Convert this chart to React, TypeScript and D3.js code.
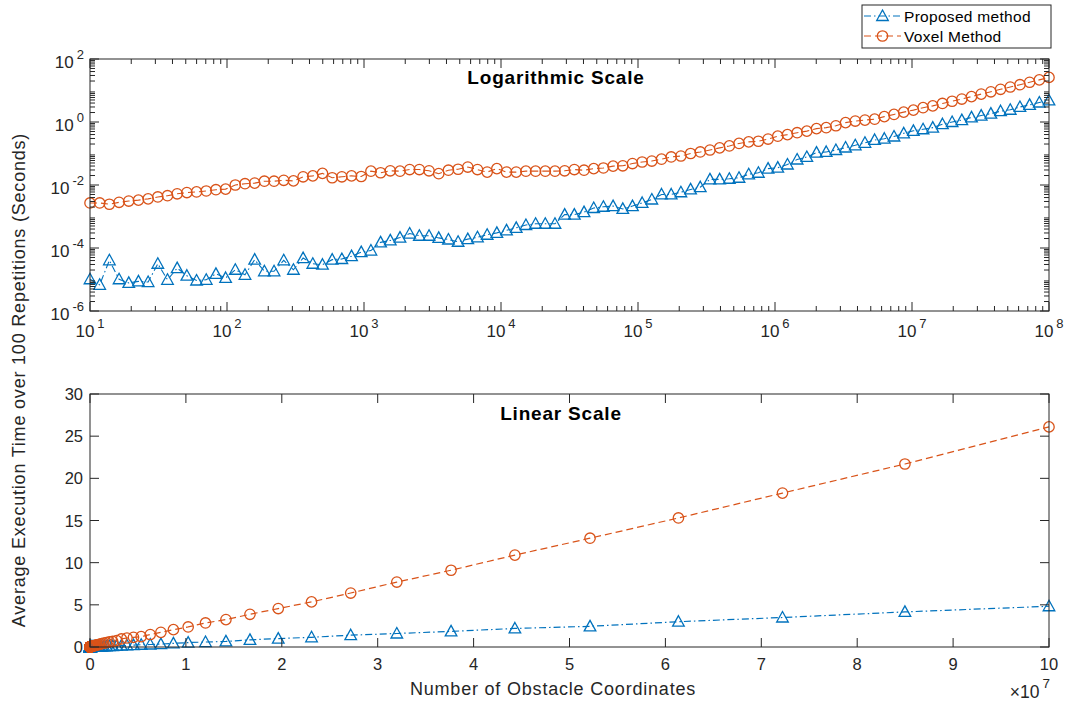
import React from 'react';
import * as d3 from 'd3';

// 100 log-spaced sample sizes (MATLAB logspace(1, 8, 100))
const sampleCount = 100;
const obstacleCounts: number[] = d3.range(sampleCount).map((i) => Math.pow(10, 1 + (7 * i) / (sampleCount - 1)));

const proposedTimes: number[] = [
  1.02e-5, 6.8e-6, 4.07e-5, 1.02e-5, 7.8e-6, 8.7e-6, 8.3e-6, 3.16e-5, 9.8e-6, 2.29e-5,
  1.32e-5, 9.3e-6, 9.8e-6, 1.51e-5, 1.12e-5, 2.04e-5, 1.41e-5, 4.27e-5, 1.82e-5, 1.82e-5,
  4.07e-5, 2.04e-5, 4.79e-5, 3.16e-5, 2.95e-5, 4.27e-5, 4.47e-5, 5.5e-5, 7.4e-5, 8.3e-5,
  1.51e-4, 1.74e-4, 2.14e-4, 2.88e-4, 2.45e-4, 2.45e-4, 2.09e-4, 1.86e-4, 1.58e-4, 1.91e-4,
  2.19e-4, 2.63e-4, 3.02e-4, 3.63e-4, 4.37e-4, 5.37e-4, 5.89e-4, 5.89e-4, 5.89e-4, 1.15e-3,
  1.15e-3, 1.38e-3, 1.86e-3, 2.04e-3, 2.14e-3, 1.74e-3, 2.14e-3, 2.69e-3, 3.47e-3, 5.01e-3,
  5.01e-3, 5.89e-3, 7.24e-3, 8.51e-3, 0.0151, 0.0151, 0.0158, 0.017, 0.0219, 0.0245,
  0.0331, 0.0355, 0.0447, 0.0646, 0.0776, 0.107, 0.112, 0.129, 0.155, 0.182,
  0.219, 0.269, 0.295, 0.347, 0.437, 0.525, 0.589, 0.661, 0.851, 1.0,
  1.15, 1.4, 1.6, 1.85, 2.2, 2.45, 3.0, 3.5, 4.16, 4.83,
];

const voxelTimes: number[] = [
  0.00269, 0.00269, 0.00245, 0.00282, 0.00309, 0.00331, 0.00363, 0.00417, 0.00457, 0.00525,
  0.00575, 0.00603, 0.00646, 0.00708, 0.00741, 0.01, 0.011, 0.0115, 0.0132, 0.0132,
  0.0141, 0.0135, 0.0182, 0.0195, 0.0234, 0.017, 0.0182, 0.0195, 0.0186, 0.0275,
  0.0245, 0.0282, 0.0275, 0.0309, 0.0309, 0.0282, 0.0229, 0.0295, 0.0316, 0.0372,
  0.0309, 0.0257, 0.0331, 0.0257, 0.0257, 0.0275, 0.0275, 0.0275, 0.0275, 0.0282,
  0.0309, 0.0295, 0.0331, 0.0347, 0.0398, 0.0407, 0.0479, 0.0537, 0.0575, 0.0661,
  0.0776, 0.0832, 0.1, 0.112, 0.129, 0.151, 0.174, 0.209, 0.234, 0.245,
  0.288, 0.355, 0.398, 0.457, 0.513, 0.617, 0.661, 0.759, 0.955, 1.07,
  1.15, 1.23, 1.48, 1.74, 2.06, 2.38, 2.85, 3.25, 3.88, 4.56,
  5.35, 6.4, 7.7, 9.1, 10.9, 12.9, 15.3, 18.25, 21.7, 26.1,
];

const logXExponents = [1, 2, 3, 4, 5, 6, 7, 8];
const logYExponents = [-6, -4, -2, 0, 2];
const linXTickLabels = [0, 1, 2, 3, 4, 5, 6, 7, 8, 9, 10];
const linYTicks = [0, 5, 10, 15, 20, 25, 30];

const seriesNames = ['Proposed method', 'Voxel Method'];
const BLUE = '#0072BD';
const ORANGE = '#D95319';
const AX = '#262626';
const FONT = 'Liberation Sans, Arial, Helvetica, sans-serif';

const L = 90;
const R = 1049;
const T1 = 59;
const B1 = 311;
const T2 = 394;
const B2 = 647;

const MAJ = 9;
const MIN = 5;

const DASH = '7,4';
const DASHDOT = '7,3,1.5,3';

function triPath(x: number, y: number) {
  const w = 5.8;
  return `M${x},${y - 6}L${x + w},${y + 4.5}L${x - w},${y + 4.5}Z`;
}

function Pow10({ x, y, exp, anchor }: { x: number; y: number; exp: number; anchor: string }) {
  return (
    <text x={x} y={y} textAnchor={anchor} fontSize={17} fill={AX} fontFamily={FONT}>
      <tspan>10</tspan>
      <tspan dx={3} dy={-9} fontSize={13}>
        {exp < 0 ? '-' + Math.abs(exp) : String(exp)}
      </tspan>
    </text>
  );
}

export default function App() {
  const xLog = d3.scaleLog().domain([10, 1e8]).range([L, R]);
  const yLog = d3.scaleLog().domain([1e-6, 1e2]).range([B1, T1]);
  const xLin = d3.scaleLinear().domain([0, 1e8]).range([L, R]);
  const yLin = d3.scaleLinear().domain([0, 30]).range([B2, T2]);

  const pts = (ys: number[]) => obstacleCounts.map((x, i) => [x, ys[i]] as [number, number]);

  const logLine = d3
    .line<[number, number]>()
    .x((d) => xLog(d[0]))
    .y((d) => yLog(d[1]));
  const linLine = d3
    .line<[number, number]>()
    .x((d) => xLin(d[0]))
    .y((d) => yLin(d[1]));

  // log minor ticks
  const xMinor: number[] = [];
  for (let k = 1; k < 8; k++) for (let m = 2; m <= 9; m++) xMinor.push(m * Math.pow(10, k));
  const yMinor: number[] = [];
  for (let k = -6; k < 2; k++) for (let m = 2; m <= 9; m++) yMinor.push(m * Math.pow(10, k));

  const ticks: JSX.Element[] = [];
  logXExponents.forEach((e) => {
    const x = xLog(Math.pow(10, e));
    ticks.push(<line key={'tx' + e} x1={x} x2={x} y1={B1} y2={B1 - MAJ} />);
    ticks.push(<line key={'ttx' + e} x1={x} x2={x} y1={T1} y2={T1 + MAJ} />);
  });
  xMinor.forEach((v, i) => {
    const x = xLog(v);
    ticks.push(<line key={'mx' + i} x1={x} x2={x} y1={B1} y2={B1 - MIN} />);
    ticks.push(<line key={'mtx' + i} x1={x} x2={x} y1={T1} y2={T1 + MIN} />);
  });
  logYExponents.forEach((e) => {
    const y = yLog(Math.pow(10, e));
    ticks.push(<line key={'ty' + e} x1={L} x2={L + MAJ} y1={y} y2={y} />);
    ticks.push(<line key={'try' + e} x1={R} x2={R - MAJ} y1={y} y2={y} />);
  });
  yMinor.forEach((v, i) => {
    const y = yLog(v);
    ticks.push(<line key={'my' + i} x1={L} x2={L + MIN} y1={y} y2={y} />);
    ticks.push(<line key={'mry' + i} x1={R} x2={R - MIN} y1={y} y2={y} />);
  });
  linXTickLabels.forEach((v) => {
    const x = xLin(v * 1e7);
    ticks.push(<line key={'lx' + v} x1={x} x2={x} y1={B2} y2={B2 - MAJ} />);
    ticks.push(<line key={'ltx' + v} x1={x} x2={x} y1={T2} y2={T2 + MAJ} />);
  });
  linYTicks.forEach((v) => {
    const y = yLin(v);
    ticks.push(<line key={'ly' + v} x1={L} x2={L + MAJ} y1={y} y2={y} />);
    ticks.push(<line key={'lry' + v} x1={R} x2={R - MAJ} y1={y} y2={y} />);
  });

  const propPts = pts(proposedTimes);
  const voxPts = pts(voxelTimes);

  return (
    <svg
      width={1075}
      height={704}
      style={{ position: 'absolute', left: 0, top: 0, background: '#fff' }}
      fontFamily={FONT}
    >
      <rect width={1075} height={704} fill="#fff" />

      {/* ---- top: log scale ---- */}
      <path d={logLine(propPts) || ''} fill="none" stroke={BLUE} strokeWidth={1.1} strokeDasharray={DASHDOT} />
      <path d={logLine(voxPts) || ''} fill="none" stroke={ORANGE} strokeWidth={1.1} strokeDasharray={DASH} />
      {propPts.map((d, i) => (
        <path key={'pt' + i} d={triPath(xLog(d[0]), yLog(d[1]))} fill="none" stroke={BLUE} strokeWidth={1.3} />
      ))}
      {voxPts.map((d, i) => (
        <circle key={'vc' + i} cx={xLog(d[0])} cy={yLog(d[1])} r={5.2} fill="none" stroke={ORANGE} strokeWidth={1.3} />
      ))}

      {/* ---- bottom: linear scale ---- */}
      <path d={linLine(propPts) || ''} fill="none" stroke={BLUE} strokeWidth={1.2} strokeDasharray={DASHDOT} />
      <path d={linLine(voxPts) || ''} fill="none" stroke={ORANGE} strokeWidth={1.2} strokeDasharray={DASH} />
      {propPts.map((d, i) => (
        <path key={'lpt' + i} d={triPath(xLin(d[0]), yLin(d[1]))} fill="none" stroke={BLUE} strokeWidth={1.3} />
      ))}
      {voxPts.map((d, i) => (
        <circle key={'lvc' + i} cx={xLin(d[0])} cy={yLin(d[1])} r={5.2} fill="none" stroke={ORANGE} strokeWidth={1.3} />
      ))}

      {/* axes boxes and ticks */}
      <g stroke={AX} strokeWidth={1} fill="none">
        <rect x={L} y={T1} width={R - L} height={B1 - T1} />
        <rect x={L} y={T2} width={R - L} height={B2 - T2} />
        {ticks}
      </g>

      {/* top tick labels */}
      {logXExponents.map((e) => (
        <Pow10 key={'lxl' + e} x={xLog(Math.pow(10, e))} y={337} exp={e} anchor="middle" />
      ))}
      {logYExponents.map((e) => (
        <Pow10 key={'lyl' + e} x={84} y={yLog(Math.pow(10, e)) + 9} exp={e} anchor="end" />
      ))}

      {/* bottom tick labels */}
      {linXTickLabels.map((v) => (
        <text key={'bxl' + v} x={xLin(v * 1e7)} y={670} textAnchor="middle" fontSize={16.5} fill={AX}>
          {v}
        </text>
      ))}
      {linYTicks.map((v) => (
        <text key={'byl' + v} x={83} y={yLin(v) + 6} textAnchor="end" fontSize={16.5} fill={AX}>
          {v}
        </text>
      ))}
      <text x={1050} y={698} textAnchor="end" fontSize={17.5} fill={AX}>
        <tspan>×10</tspan>
        <tspan dx={3} dy={-10} fontSize={13.5}>7</tspan>
      </text>

      {/* titles */}
      <text x={556} y={84} textAnchor="middle" fontSize={19} letterSpacing={0.8} fontWeight="bold" fill="#000">
        Logarithmic Scale
      </text>
      <text x={561} y={420} textAnchor="middle" fontSize={19} letterSpacing={0.8} fontWeight="bold" fill="#000">
        Linear Scale
      </text>

      {/* axis labels */}
      <text x={553} y={695} textAnchor="middle" fontSize={18} letterSpacing={0.8} fill={AX}>
        Number of Obstacle Coordinates
      </text>
      <text transform="translate(25,380) rotate(-90)" textAnchor="middle" fontSize={18} letterSpacing={0.8} fill={AX}>
        Average Execution Time over 100 Repetitions (Seconds)
      </text>

      {/* legend */}
      <g>
        <rect x={862} y={5} width={189} height={43} fill="#fff" stroke={AX} strokeWidth={1} />
        <line x1={864} x2={901} y1={16} y2={16} stroke={BLUE} strokeWidth={1.1} strokeDasharray={DASHDOT} />
        <path d={triPath(882.5, 16)} fill="none" stroke={BLUE} strokeWidth={1.3} />
        <text x={904} y={21.5} fontSize={15.5} letterSpacing={0.3} fill="#000">
          {seriesNames[0]}
        </text>
        <line x1={864} x2={901} y1={36} y2={36} stroke={ORANGE} strokeWidth={1.1} strokeDasharray={DASH} />
        <circle cx={882.5} cy={36} r={5.2} fill="none" stroke={ORANGE} strokeWidth={1.3} />
        <text x={904} y={41.5} fontSize={15.5} letterSpacing={0.3} fill="#000">
          {seriesNames[1]}
        </text>
      </g>
    </svg>
  );
}
